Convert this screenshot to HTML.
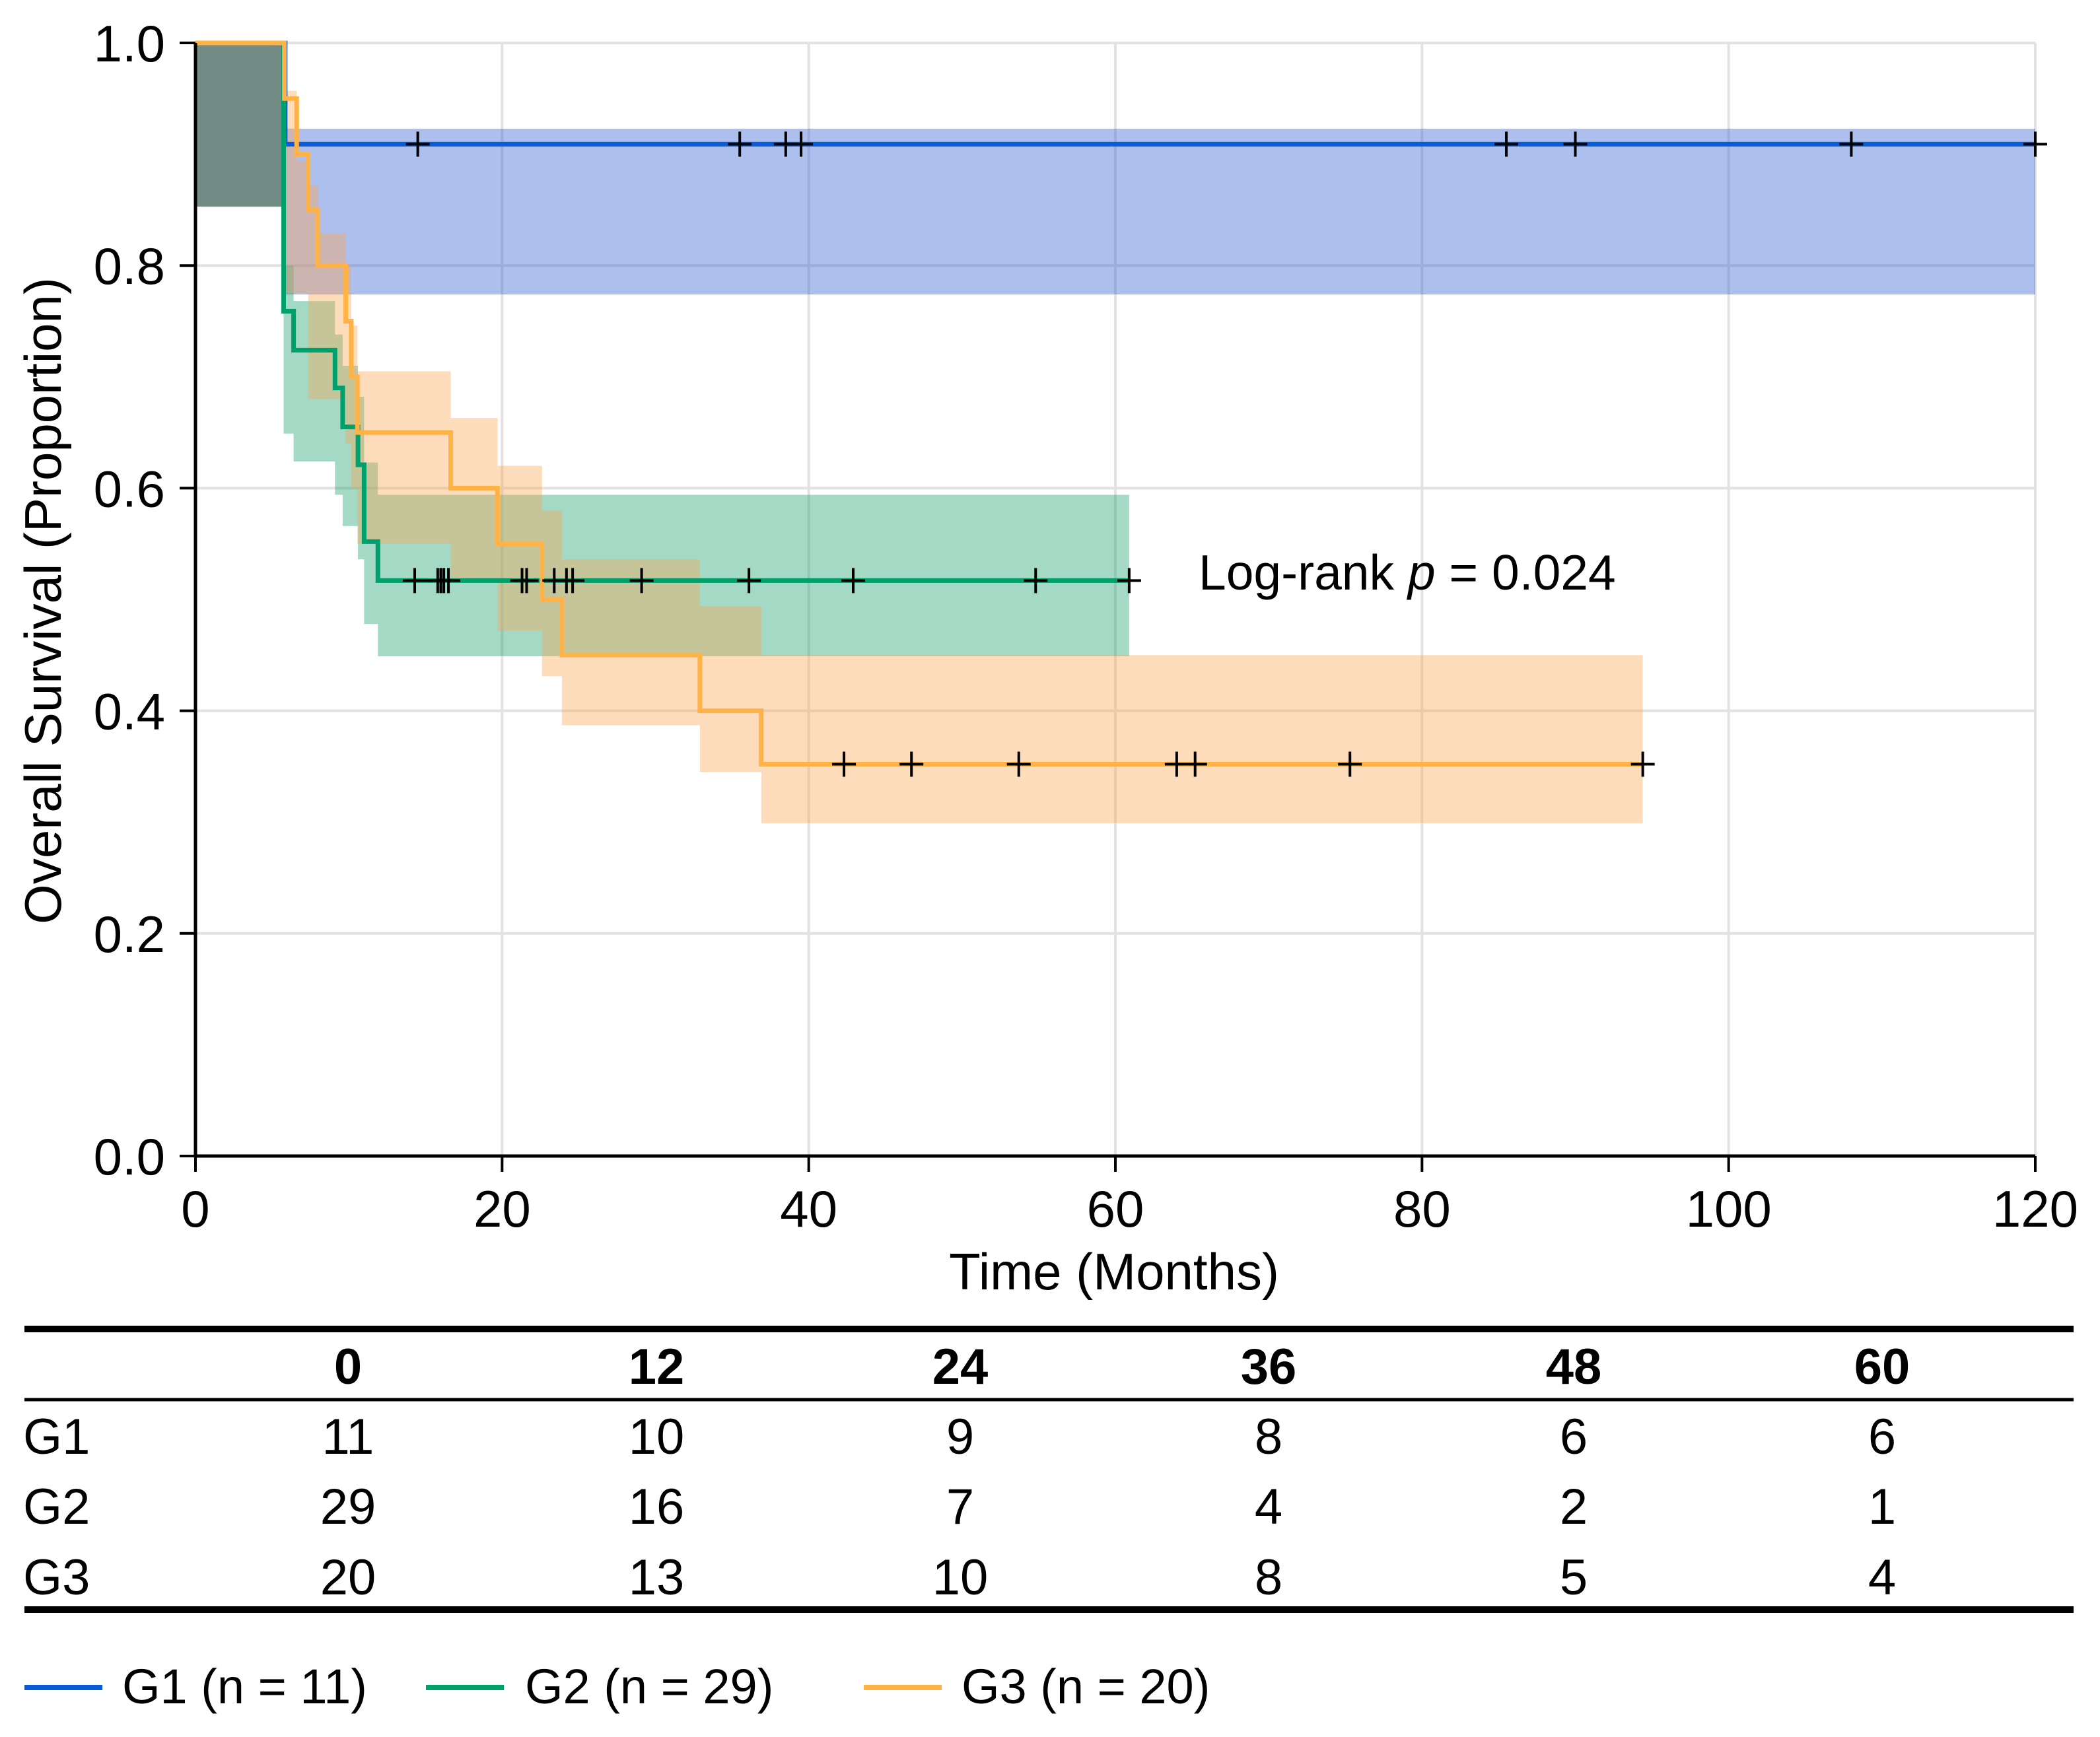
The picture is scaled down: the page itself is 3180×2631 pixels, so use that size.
<!DOCTYPE html>
<html><head><meta charset="utf-8"><style>
html,body{margin:0;padding:0;background:#fff;}
svg{display:block;font-family:"Liberation Sans",sans-serif;}
</style></head><body>
<svg id="chart" width="3180" height="2631" viewBox="0 0 3180 2631" xmlns="http://www.w3.org/2000/svg">
<g id="grid"></g>
<g id="bands"></g>
<g id="lines"></g>
<g id="censors"></g>
<g id="axes"></g>
<text x="1815" y="893" font-size="75">Log-rank <tspan font-style="italic">p</tspan> = 0.024</text>
<text x="1687" y="1953" font-size="78" text-anchor="middle">Time (Months)</text>
<text transform="translate(92,910) rotate(-90)" font-size="78" text-anchor="middle">Overall Survival (Proportion)</text>
<g id="table"></g>
<g id="legend"></g>
</svg>
<script>
const xTicks=[0,20,40,60,80,100,120];
const yTicks=[0,0.2,0.4,0.6,0.8,1.0];
const yTickLabels=["0.0","0.2","0.4","0.6","0.8","1.0"];
const groupNames=["G1","G2","G3"];
const groupN=[11,29,20];
const g1Times=[0,5.85];
const g1Surv=[1,0.909];
const g1Lower=[0.853,0.774];
const g1Upper=[1,0.923];
const g1End=120;
const g1Censor=[14.5,35.5,38.5,39.5,85.5,90,108,120];
const g2Times=[0,5.75,6.4,9.1,9.6,10.6,11.0,11.9];
const g2Surv=[1,0.759,0.724,0.690,0.655,0.621,0.552,0.517];
const g2Lower=[0.853,0.649,0.624,0.594,0.566,0.536,0.478,0.449];
const g2Upper=[1,0.80,0.768,0.738,0.710,0.682,0.623,0.594];
const g2End=60.9;
const g2Censor=[14.3,15.8,16.0,16.2,16.5,21.3,21.6,23.4,24.2,24.6,29.1,36.1,42.9,54.8,60.9];
const g3Times=[0,5.8,6.6,7.35,7.97,9.8,10.16,10.56,16.65,19.7,22.6,23.9,32.9,36.9];
const g3Surv=[1,0.95,0.90,0.85,0.80,0.75,0.70,0.65,0.60,0.55,0.50,0.45,0.40,0.352];
const g3Lower=[0.853,0.775,0.775,0.68,0.68,0.64,0.60,0.55,0.515,0.472,0.431,0.387,0.345,0.299];
const g3Upper=[1,0.957,0.894,0.872,0.829,0.80,0.746,0.705,0.663,0.620,0.580,0.536,0.494,0.45];
const g3End=94.4;
const g3Censor=[42.3,46.7,53.7,64.0,65.2,75.3,94.4];
const riskTimes=[0,12,24,36,48,60];
const riskG1=[11,10,9,8,6,6];
const riskG2=[29,16,7,4,2,1];
const riskG3=[20,13,10,8,5,4];

const NS="http://www.w3.org/2000/svg";
const X0=296,X1=3082,Y0=1751,Y1=65;
const xs=t=>X0+(t/120)*(X1-X0);
const ys=v=>Y0-v*(Y0-Y1);
function mk(tag,attrs,parent){const e=document.createElementNS(NS,tag);for(const k in attrs)e.setAttribute(k,attrs[k]);parent.appendChild(e);return e;}
const grid=document.getElementById('grid'),axes=document.getElementById('axes');
xTicks.forEach(t=>{
 const l=mk('line',{x1:xs(t),x2:xs(t),y1:Y1,y2:Y0,stroke:'#e2e2e2','stroke-width':4},grid);
 
 
 const tk=mk('line',{x1:xs(t),x2:xs(t),y1:Y0,y2:Y0+24,stroke:'#000','stroke-width':4},axes);
 
 
 const tx=mk('text',{x:xs(t),y:1858,'font-size':78,'text-anchor':'middle'},axes);tx.textContent=t;
 
 
});
yTicks.forEach((v,i)=>{
 const l=mk('line',{x1:X0,x2:X1,y1:ys(v),y2:ys(v),stroke:'#e2e2e2','stroke-width':4},grid);
 
 
 const tk=mk('line',{x1:X0-24,x2:X0,y1:ys(v),y2:ys(v),stroke:'#000','stroke-width':4},axes);
 
 
 const tx=mk('text',{x:250,y:ys(v)+28,'font-size':78,'text-anchor':'end'},axes);tx.textContent=yTickLabels[i];
 
 
});
const ax=mk('path',{d:`M${X0},${Y1} V${Y0} H${X1}`,fill:'none',stroke:'#000','stroke-width':5},axes);



const groups=[
 {name:'g1',times:g1Times,surv:g1Surv,lo:g1Lower,hi:g1Upper,end:g1End,cens:g1Censor,line:'#0a5bd6',band:'#325fd0'},
 {name:'g2',times:g2Times,surv:g2Surv,lo:g2Lower,hi:g2Upper,end:g2End,cens:g2Censor,line:'#00a06c',band:'#19a06e'},
 {name:'g3',times:g3Times,surv:g3Surv,lo:g3Lower,hi:g3Upper,end:g3End,cens:g3Censor,line:'#ffb347',band:'#faa858'}
];
function stepVal(times,vals,t){let v=vals[0];for(let i=0;i<times.length;i++){if(times[i]<=t)v=vals[i];}return v;}
const bandsG=document.getElementById('bands'),linesG=document.getElementById('lines'),censG=document.getElementById('censors');
groups.forEach(g=>{
 let top='',bot=[];
 for(let i=0;i<g.times.length;i++){
  const a=g.times[i],b=(i+1<g.times.length)?g.times[i+1]:g.end;
  top+=(i===0?'M':'L')+xs(a)+','+ys(g.hi[i])+' L'+xs(b)+','+ys(g.hi[i])+' ';
  bot.unshift('L'+xs(b)+','+ys(g.lo[i])+' L'+xs(a)+','+ys(g.lo[i]));
 }
 const band=mk('path',{d:top+bot.join(' ')+' Z',fill:g.band,'fill-opacity':0.4},bandsG);
 
 
});
// shared overlap region before first event (all three bands overlap)
const firstEvent=Math.min(g1Times[1],g2Times[1],g3Times[1]);
const ov=mk('rect',{x:xs(0),y:ys(g1Upper[0]),width:xs(firstEvent)-xs(0),height:ys(g1Lower[0])-ys(g1Upper[0]),fill:'#738b85'},bandsG);


groups.forEach(g=>{
 let d='';
 for(let i=0;i<g.times.length;i++){
  const a=g.times[i],b=(i+1<g.times.length)?g.times[i+1]:g.end;
  d+=(i===0?'M'+xs(a)+','+ys(g.surv[i]):'V'+ys(g.surv[i]))+' H'+xs(b)+' ';
 }
 const ln=mk('path',{d:d,fill:'none',stroke:g.line,'stroke-width':7},linesG);
 
 
 g.cens.forEach(t=>{
  const cx=xs(t),cy=ys(stepVal(g.times,g.surv,t));
  const c=mk('path',{d:`M${cx-18},${cy} H${cx+18} M${cx},${cy-19} V${cy+19}`,stroke:'#000','stroke-width':4,fill:'none'},censG);
  
  
 });
});

const table=document.getElementById('table');
const colX=[527,994,1454,1921,2383,2850];
[[2013,10],[2120,5],[2438,10]].forEach(r=>{
 const l=mk('line',{x1:37,x2:3140,y1:r[0],y2:r[0],stroke:'#000','stroke-width':r[1]},table);
 
 
});
riskTimes.forEach((t,i)=>{
 const tx=mk('text',{x:colX[i],y:2096,'font-size':76,'font-weight':'bold','text-anchor':'middle'},table);tx.textContent=t;
 
 
});
[riskG1,riskG2,riskG3].forEach((row,r)=>{
 const y=[2202,2308,2415][r];
 const lb=mk('text',{x:35,y:y,'font-size':76},table);lb.textContent=groupNames[r];
 
 
 row.forEach((v,i)=>{
  const tx=mk('text',{x:colX[i],y:y,'font-size':76,'text-anchor':'middle'},table);tx.textContent=v;
  
  
 });
});
const legend=document.getElementById('legend');
const legLineX=[37,645,1308],legTextX=[185,795,1456];
groups.forEach((g,i)=>{
 const l=mk('line',{x1:legLineX[i],x2:legLineX[i]+118,y1:2556,y2:2556,stroke:g.line,'stroke-width':8},legend);
 
 
 const tx=mk('text',{x:legTextX[i],y:2580,'font-size':74},legend);tx.textContent=groupNames[i]+' (n = '+groupN[i]+')';
 
 
});
</script>
</body></html>
